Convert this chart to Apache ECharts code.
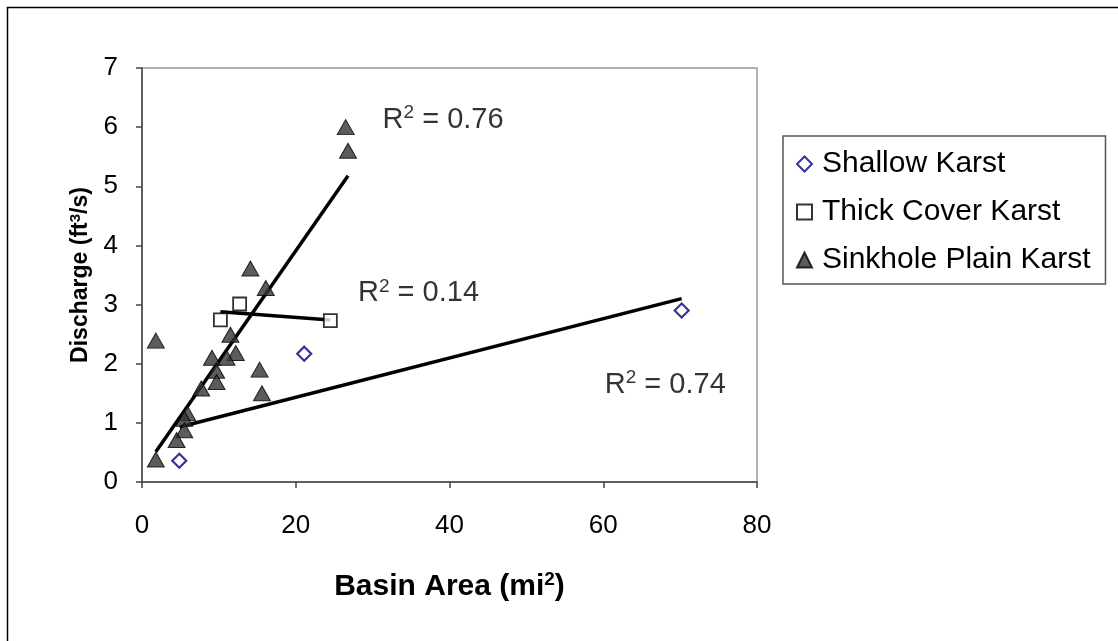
<!DOCTYPE html>
<html>
<head>
<meta charset="utf-8">
<title>Discharge vs Basin Area</title>
<script src="https://cdn.jsdelivr.net/npm/echarts@6/dist/echarts.min.js"></script>
<style>
  html, body { margin: 0; padding: 0; background: #fff; }
  #chart { width: 1118px; height: 641px; }
</style>
</head>
<body>
<div id="chart"></div>
<script>
// points: [basin area mi2, discharge ft3/s]
const shallowKarst = [[4.85, 0.36], [21.1, 2.17], [70.2, 2.9]]
const thickCoverKarst = [[10.2, 2.74], [12.7, 3.01], [24.5, 2.73]]
const sinkholePlainKarst = [
  [26.5, 6.0], [26.8, 5.6], [14.1, 3.61], [16.1, 3.28], [1.8, 2.39],
  [11.5, 2.49], [12.2, 2.18], [9.1, 2.1], [11.0, 2.1], [9.65, 1.88],
  [9.7, 1.69], [15.3, 1.9], [15.6, 1.5], [7.7, 1.58], [5.9, 1.16],
  [5.5, 1.07], [5.5, 0.875], [4.5, 0.71], [1.8, 0.38]
]
// linear trend lines (end points)
const shallowTrend = [[4.9, 0.93], [70.2, 3.1]]
const thickTrend = [[10.2, 2.88], [24.5, 2.74]]
const sinkholeTrend = [[1.8, 0.51], [26.8, 5.18]]
// R squared labels, anchored at the left of the text
const r2Labels = [[31.3, 6.12, '0.76'], [28.1, 3.19, '0.14'], [60.2, 1.64, '0.74']]

const xTicks = [0, 20, 40, 60, 80]
const yTicks = [0, 1, 2, 3, 4, 5, 6, 7]

const font = 'Liberation Sans, Arial, sans-serif'
const chart = echarts.init(document.getElementById('chart'))

const trendLine = (data) => ({
  type: 'line',
  data: data,
  showSymbol: false,
  symbol: 'none',
  lineStyle: { color: '#000', width: 3.5 },
  silent: true,
  z: 1
})

chart.setOption({
  animation: false,
  textStyle: { fontFamily: font },
  graphic: [
    {
      type: 'rect',
      shape: { x: 7.5, y: 7.5, width: 1200, height: 800 },
      style: { fill: 'none', stroke: '#000', lineWidth: 1.5 },
      silent: true
    }
  ],
  grid: {
    left: 142, top: 68, right: 361, bottom: 159,
    show: true, borderColor: '#999', borderWidth: 1.5, backgroundColor: 'transparent'
  },
  legend: {
    data: ['Shallow Karst', 'Thick Cover Karst', 'Sinkhole Plain Karst'],
    orient: 'vertical',
    left: 783, top: 136,
    padding: [13, 15, 9, 13],
    itemGap: 18,
    itemWidth: 15, itemHeight: 15,
    borderColor: '#555', borderWidth: 1.5,
    backgroundColor: '#fff',
    textStyle: { fontSize: 30, lineHeight: 30, color: '#000', fontFamily: font, padding: [0, 0, 0, 5] }
  },
  xAxis: {
    type: 'value',
    min: 0, max: 80, interval: 20,
    splitLine: { show: false },
    axisLine: { onZero: false, lineStyle: { color: '#444', width: 1.5 } },
    axisTick: { show: true, length: 6, lineStyle: { color: '#444', width: 1.5 } },
    axisLabel: {
      fontSize: 26, color: '#000', margin: 31,
      formatter: (v) => xTicks.includes(v) ? String(v) : ''
    },
    name: 'Basin Area (mi{sup|2})',
    nameLocation: 'middle',
    nameGap: 88,
    nameTextStyle: {
      fontSize: 30, fontWeight: 'bold', color: '#000',
      rich: { sup: { fontSize: 19, fontWeight: 'bold', verticalAlign: 'top', padding: [0, 0, 14, 0] } }
    }
  },
  yAxis: {
    type: 'value',
    min: 0, max: 7, interval: 1,
    splitLine: { show: false },
    axisLine: { show: true, onZero: false, lineStyle: { color: '#444', width: 1.5 } },
    axisTick: { show: true, length: 6, lineStyle: { color: '#444', width: 1.5 } },
    axisLabel: {
      fontSize: 26, color: '#000', margin: 24,
      formatter: (v) => yTicks.includes(v) ? String(v) : ''
    },
    name: 'Discharge (ft{sup|3}/s)',
    nameLocation: 'middle',
    nameGap: 30,
    nameTextStyle: {
      fontSize: 23, fontWeight: 'bold', color: '#000',
      rich: { sup: { fontSize: 15, fontWeight: 'bold', verticalAlign: 'top', padding: [0, 0, 10, 0] } }
    }
  },
  series: [
    trendLine(sinkholeTrend),
    trendLine(thickTrend),
    trendLine(shallowTrend),
    {
      name: 'Shallow Karst',
      type: 'scatter',
      data: shallowKarst,
      symbol: 'diamond',
      symbolSize: 14,
      itemStyle: { color: '#fff', borderColor: '#000080', borderWidth: 2.2 },
      z: 3
    },
    {
      name: 'Thick Cover Karst',
      type: 'scatter',
      data: thickCoverKarst,
      symbol: 'rect',
      symbolSize: 13,
      itemStyle: { color: '#fff', borderColor: '#000', borderWidth: 1.8 },
      z: 3
    },
    {
      name: 'Sinkhole Plain Karst',
      type: 'scatter',
      data: sinkholePlainKarst,
      symbol: 'triangle',
      symbolSize: [17, 15],
      itemStyle: { color: '#333', borderColor: '#000', borderWidth: 1 },
      z: 3
    },
    {
      name: 'r2',
      type: 'scatter',
      data: r2Labels,
      symbolSize: 0,
      silent: true,
      label: {
        show: true,
        position: 'right',
        distance: 0,
        fontSize: 29,
        color: '#000',
        formatter: (p) => 'R{sup|2} = ' + p.value[2],
        rich: { sup: { fontSize: 19, color: '#000', verticalAlign: 'top', padding: [0, 0, 14, 0] } }
      },
      z: 4
    }
  ]
})
</script>
</body>
</html>
